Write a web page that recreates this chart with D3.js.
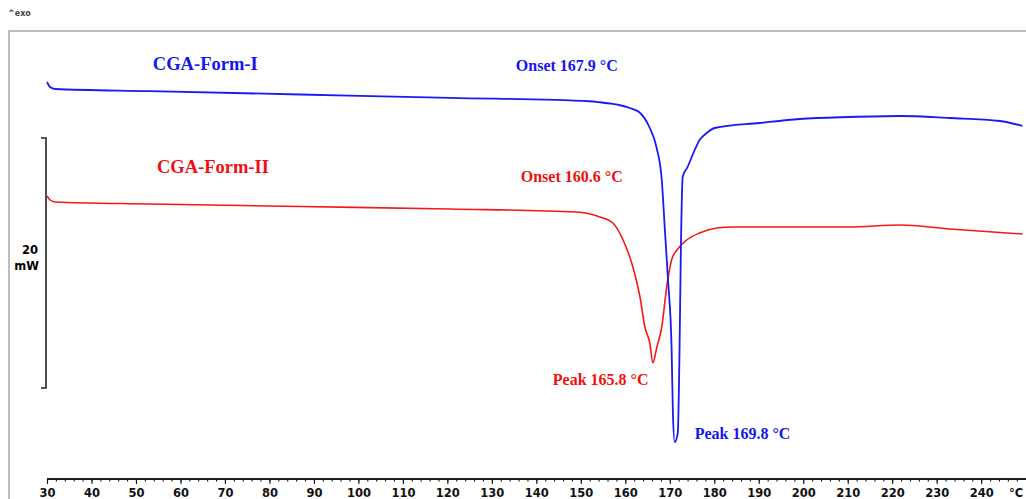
<!DOCTYPE html>
<html>
<head>
<meta charset="utf-8">
<script src="https://cdn.jsdelivr.net/npm/d3@7"></script>
<style>
	body { margin: 0; background: #fff; }
	svg { display: block; }
</style>
</head>
<body>
<script>
// DSC curves: temperature (°C) and heat flow (mW, offset arbitrary)
var formI_T = [30.0, 30.7, 31.8, 53.1, 86.9, 120.6, 152.0, 154.3, 156.5, 158.8, 161.0, 163.1, 165.4, 167.0, 168.2, 168.9, 169.6, 170.4, 170.7, 171.1, 171.8, 172.2, 172.5, 172.9, 174.0, 175.6, 176.7, 178.3, 180.1, 190.2, 199.2, 210.4, 221.7, 232.9, 244.2, 249.3]
var formI_mW = [1.76, 1.36, 1.2, 1.03, 0.76, 0.49, 0.22, 0.14, 0.04, -0.1, -0.32, -0.64, -1.84, -3.44, -6.08, -10.08, -14.08, -19.44, -24.72, -27.04, -26.32, -19.44, -11.44, -5.84, -5.04, -3.68, -2.88, -2.32, -1.92, -1.52, -1.2, -1.04, -0.96, -1.12, -1.36, -1.76]

var formII_T = [30.0, 30.7, 31.8, 53.1, 86.9, 120.6, 148.9, 154.3, 157.2, 159.5, 161.7, 163.3, 164.4, 165.5, 166.2, 167.1, 168.2, 169.3, 170.4, 171.6, 173.8, 176.7, 180.6, 184.2, 190.2, 210.4, 221.7, 232.9, 249.3]
var formII_mW = [-7.36, -7.68, -7.84, -8.0, -8.2, -8.4, -8.64, -9.04, -9.52, -10.88, -13.04, -15.44, -17.84, -19.12, -20.72, -19.44, -17.84, -14.64, -12.48, -11.68, -10.88, -10.32, -9.92, -9.84, -9.84, -9.84, -9.68, -10.0, -10.4]

var tickValues = d3.range(30, 241, 10)
var minorTicks = d3.range(30, 249, 2)

var labels = [
	{text: 'CGA-Form-I', t: 53.8, v: 2.7, size: 18.5, color: '#1515f0'},
	{text: 'Onset 167.9 °C', t: 135.4, v: 2.64, size: 16, color: '#1515f0'},
	{text: 'CGA-Form-II', t: 54.7, v: -5.5, size: 18.5, color: '#f01010'},
	{text: 'Onset 160.6 °C', t: 136.5, v: -6.24, size: 16, color: '#f01010'},
	{text: 'Peak 165.8 °C', t: 143.7, v: -22.5, size: 16, color: '#f01010'},
	{text: 'Peak 169.8 °C', t: 175.6, v: -26.8, size: 16, color: '#1515f0'}
]

var W = 1026, H = 499

var svg = d3.select('body').append('svg')
	.attr('width', W)
	.attr('height', H)

var x = d3.scaleLinear().domain([30, 249.4]).range([47, 1023])
var y = d3.scaleLinear().domain([-30, 6]).range([479, 29]) // 12.5 px per mW

// frame
svg.append('rect')
	.attr('x', 9).attr('y', 31)
	.attr('width', W + 20).attr('height', H)
	.attr('fill', 'none')
	.attr('stroke', '#a8a8a8')
	.attr('stroke-width', 1.5)

svg.append('text')
	.attr('x', 8).attr('y', 16)
	.style('font-family', 'DejaVu Sans, sans-serif')
	.style('font-size', '8px')
	.style('font-weight', 'bold')
	.attr('fill', '#444')
	.text('^exo')

// 20 mW scale bar
var barTop = y(-2.72), barBot = y(-22.72)
svg.append('path')
	.attr('d', 'M41,' + barTop + 'H46V' + barBot + 'H41')
	.attr('fill', 'none')
	.attr('stroke', '#222')
	.attr('stroke-width', 1.6)
svg.append('text')
	.attr('x', 38).attr('y', 254)
	.attr('text-anchor', 'end')
	.style('font-family', 'DejaVu Sans, sans-serif')
	.style('font-size', '11.5px').style('font-weight', 'bold')
	.text('20')
svg.append('text')
	.attr('x', 39).attr('y', 270)
	.attr('text-anchor', 'end')
	.style('font-family', 'DejaVu Sans, sans-serif')
	.style('font-size', '11.5px').style('font-weight', 'bold')
	.text('mW')

// x axis
var gx = svg.append('g').attr('transform', 'translate(0,479)')
gx.append('g')
	.call(d3.axisBottom(x).tickValues(minorTicks).tickSizeInner(2.5).tickSizeOuter(0).tickFormat(''))
gx.append('g')
	.call(d3.axisBottom(x).tickValues(tickValues).tickSizeInner(5).tickSizeOuter(0).tickPadding(5)
		.tickFormat(d3.format('d')))
gx.selectAll('path.domain').attr('stroke', '#111').attr('stroke-width', 1.3).attr('d', 'M47,0H1026')
gx.selectAll('.tick line').attr('stroke', '#111').attr('stroke-width', 1.1)
gx.selectAll('text')
	.style('font-family', 'DejaVu Sans, sans-serif')
	.style('font-size', '11.5px').style('font-weight', 'bold')
	.attr('fill', '#111')
gx.append('text')
	.attr('x', 1016).attr('y', 10)
	.attr('dy', '0.71em')
	.attr('text-anchor', 'middle')
	.style('font-family', 'DejaVu Sans, sans-serif')
	.style('font-size', '11.5px').style('font-weight', 'bold')
	.attr('fill', '#111')
	.text('°C')

// curves
var line = d3.line()
	.x(function(d) { return x(d[0]) })
	.y(function(d) { return y(d[1]) })
	.curve(d3.curveMonotoneX)

svg.append('path')
	.datum(d3.zip(formII_T, formII_mW))
	.attr('d', line)
	.attr('fill', 'none')
	.attr('stroke', '#f51818')
	.attr('stroke-width', 1.6)

svg.append('path')
	.datum(d3.zip(formI_T, formI_mW))
	.attr('d', line)
	.attr('fill', 'none')
	.attr('stroke', '#1a1af5')
	.attr('stroke-width', 1.8)

// annotations
svg.selectAll('text.note')
	.data(labels)
	.enter().append('text')
	.attr('class', 'note')
	.attr('x', function(d) { return x(d.t) })
	.attr('y', function(d) { return y(d.v) })
	.style('font-family', 'Liberation Serif, Times New Roman, serif')
	.style('font-weight', 'bold')
	.style('font-size', function(d) { return d.size + 'px' })
	.attr('fill', function(d) { return d.color })
	.text(function(d) { return d.text })
</script>
</body>
</html>
